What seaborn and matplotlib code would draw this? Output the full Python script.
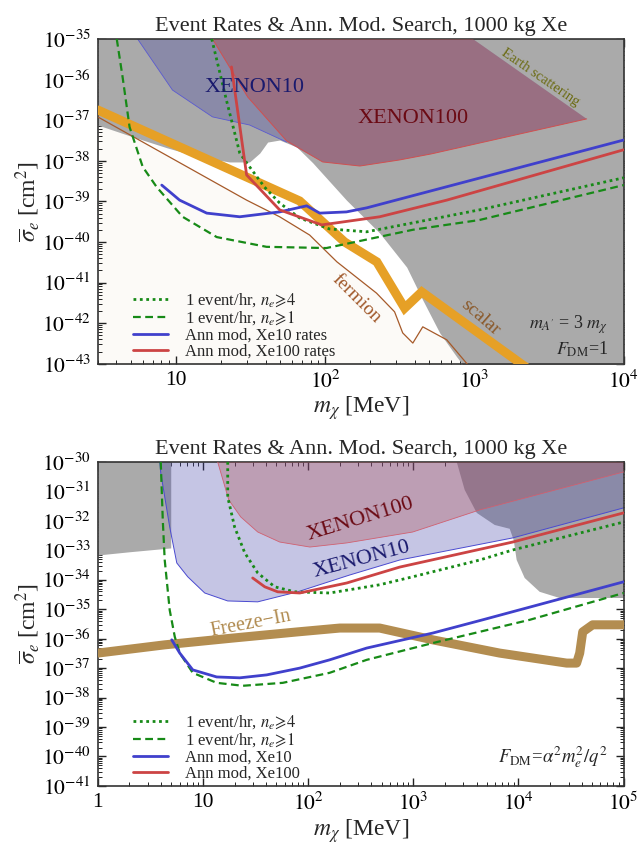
import numpy as np
import seaborn as sns
import matplotlib.pyplot as plt
from matplotlib.ticker import FixedLocator, FixedFormatter, LogLocator, NullFormatter

sns.set_theme(style='ticks')
plt.rcParams['font.family'] = ['Liberation Serif', 'DejaVu Serif']
plt.rcParams['mathtext.fontset'] = 'stix'

# ---------------- top panel data (mass in MeV, log10 sigma_e in cm^2) ----------------
top_gray_m = [3, 5.14, 8.7, 14.4, 22.9, 31.2, 36.5, 41.2, 49.6, 64.4, 82.6, 139, 232, 352, 451, 586, 762, 889, 1e4]
top_gray_lg = [-37.12, -37.41, -37.68, -37.91, -38.03, -38.03, -37.81, -37.54, -37.49, -37.66, -38.05,
               -38.97, -39.78, -40.62, -41.43, -42.24, -42.83, -43.15, -43.15]

top_x10_m = [5.54, 9.5, 17.6, 31.2, 55.2]
top_x10_lg = [-35, -36.26, -36.92, -37.12, -37.54]

top_x100_m = [17.6, 30.3, 55.2, 96.3, 171, 316, 517, 5650]
top_x100_lg = [-35, -36.43, -37.51, -38.03, -38.13, -37.98, -37.83, -36.97]
top_earth_m = [975]
top_earth_lg = [-35]

top_dot_m = [17.4, 21.8, 26.8, 31.2, 39.3, 49.6, 67.5, 107, 190, 387, 1080, 1e4]
top_dot_lg = [-35, -36.5, -37.81, -38.15, -38.65, -39.04, -39.41, -39.68, -39.75, -39.53, -39.21, -38.42]

top_dash_m = [4.02, 4.4, 4.9, 6.0, 7.45, 11.1, 18.8, 40.5, 102, 387, 1080, 1e4]
top_dash_lg = [-35, -35.94, -37.17, -38.15, -38.65, -39.38, -39.88, -40.12, -40.15, -39.7, -39.46, -38.6]

top_blue_m = [8.05, 10.6, 16.1, 26.8, 49.6, 75.3, 92, 139, 190, 1e4]
top_blue_lg = [-38.6, -38.97, -39.29, -39.38, -39.26, -39.11, -39.29, -39.26, -39.16, -37.49]

top_red_m = [23.6, 29.8, 49.6, 94.9, 232, 653, 1e4]
top_red_lg = [-35.69, -38.35, -39.21, -39.58, -39.38, -38.97, -37.73]

scalar_m = [3, 67.5, 135, 222, 341, 444, 2110, 2735]
scalar_lg = [-36.75, -38.99, -40.0, -40.49, -41.63, -41.23, -43.03, -43.32]

fermion_m = [3, 29.8, 49.6, 78.8, 120, 221, 292, 331, 387, 451, 653, 931, 1000]
fermion_lg = [-36.92, -38.97, -39.38, -39.83, -40.49, -41.26, -41.72, -42.24, -42.49, -42.09, -42.41, -43.08, -43.2]

# ---------------- bottom panel data ----------------
bot_gray1_m = [1, 2, 4.94]
bot_gray1_lg = [-33.16, -33.05, -32.92]

bot_gray2_m = [2587, 3080, 4010, 5940, 8250, 9000, 9610, 11450, 15900, 24600, 1e5]
bot_gray2_lg = [-30, -30.95, -31.73, -32.14, -32.27, -32.65, -33.33, -33.94, -34.41, -34.62, -34.62]

bot_x10_m = [3.88, 3.97, 4.83, 5.64, 7.17, 10.4, 17.2, 33.2, 79.6, 248, 743, 8810, 1e5]
bot_x10_lg = [-30, -30.37, -32.21, -33.43, -33.90, -34.45, -34.72, -34.75, -34.41, -33.84, -33.33, -32.58, -31.56]

bot_x100_m = [13.8, 17.6, 22.9, 33.2, 53.7, 104, 233, 986, 4280, 1e5]
bot_x100_lg = [-30, -31.29, -31.87, -32.38, -32.72, -32.89, -32.75, -32.38, -31.63, -30.34]

bot_dot_m = [17.2, 17.2, 20.0, 25, 33.2, 48.1, 74.6, 160, 480, 986, 4280, 8810, 1e5]
bot_dot_lg = [-30, -31.19, -32.21, -33.09, -33.77, -34.24, -34.41, -34.45, -34.17, -33.9, -33.33, -32.99, -32.04]

bot_dash_m = [3.97, 4.15, 4.33, 4.83, 5.4, 6.02, 8.0, 13.5, 23.9, 57.4, 160, 360, 1530, 12800, 1e5]
bot_dash_lg = [-30, -31.97, -33.33, -35.03, -35.94, -36.49, -37.16, -37.5, -37.6, -37.5, -37.16, -36.72,
               -36.15, -35.36, -34.45]

bot_blue_m = [5.05, 6.02, 8.0, 13.5, 22.4, 40.4, 83.2, 160, 360, 1530, 4570, 1e5]
bot_blue_lg = [-36.04, -36.49, -37.06, -37.30, -37.33, -37.23, -37.0, -36.72, -36.32, -35.81, -35.36, -34.07]

bot_red_m = [29.7, 38.7, 51.4, 83.2, 233, 743, 8810, 1e5]
bot_red_lg = [-33.94, -34.24, -34.41, -34.45, -34.11, -33.57, -32.72, -31.73]

freeze_m = [1, 4.33, 19.2, 79.6, 200, 479, 1530, 6620, 28700, 35700, 38200, 40800, 50700, 1e5]
freeze_lg = [-36.49, -36.21, -35.98, -35.77, -35.64, -35.64, -36.04, -36.49, -36.83, -36.83, -36.49,
             -35.77, -35.53, -35.53]

top_xticks = [10, 100, 1000, 10000]
top_xlabels = ['10', '$10^2$', '$10^3$', '$10^4$']
bot_xticks = [1, 10, 100, 1000, 10000, 100000]
bot_xlabels = ['1', '10', '$10^2$', '$10^3$', '$10^4$', '$10^5$']
top_yexp = list(range(-43, -34))
bot_yexp = list(range(-41, -29))

title = 'Event Rates & Ann. Mod. Search, 1000 kg Xe'

GRAY = '#aaaaaa'
GREEN = '#178a17'
BLUE = '#4040cc'
RED = '#cc4444'
X10_C = (0.25, 0.25, 0.65)
X100_C = (0.68, 0.31, 0.33)


def s(lg):
    return 10.0 ** np.asarray(lg)


def style_axes(ax, xlim, ylim, xticks, xlabels, yexp):
    ax.set_xscale('log')
    ax.set_yscale('log')
    ax.set_xlim(*xlim)
    ax.set_ylim(*ylim)
    ax.xaxis.set_major_locator(FixedLocator(xticks))
    ax.xaxis.set_major_formatter(FixedFormatter(xlabels))
    ax.xaxis.set_minor_locator(LogLocator(base=10, subs=np.arange(2, 10), numticks=50))
    ax.xaxis.set_minor_formatter(NullFormatter())
    ax.yaxis.set_major_locator(FixedLocator([10.0 ** e for e in yexp]))
    ax.yaxis.set_major_formatter(FixedFormatter(['$10^{%d}$' % e for e in yexp]))
    ax.yaxis.set_minor_locator(LogLocator(base=10, subs=np.arange(2, 10), numticks=50))
    ax.yaxis.set_minor_formatter(NullFormatter())
    ax.tick_params(which='both', direction='in', top=True, right=True, colors='#222222',
                   labelsize=15.5, labelcolor='black')
    ax.tick_params(which='major', length=6, width=1.0, pad=5)
    ax.tick_params(which='minor', length=3, width=0.7)
    for sp in ax.spines.values():
        sp.set_linewidth(1.2)
        sp.set_color('#333333')
    ax.set_xlabel(r'$m_\chi$ [MeV]', fontsize=17, labelpad=1)
    ax.set_ylabel(r'$\overline{\sigma}_e$ [cm$^2$]', fontsize=17, labelpad=0)
    ax.set_title(title, fontsize=16, pad=6)
    ax.set_facecolor('white')


def rate_lines(ax, dot, dash, blue, red, labels):
    sns.lineplot(x=dot[0], y=s(dot[1]), ax=ax, color=GREEN, lw=2.0, linestyle=(0, (1, 1.3)),
                 sort=False, estimator=None, label=labels[0], zorder=6)
    sns.lineplot(x=dash[0], y=s(dash[1]), ax=ax, color=GREEN, lw=1.6, linestyle=(0, (3.5, 2)),
                 sort=False, estimator=None, label=labels[1], zorder=6)
    sns.lineplot(x=blue[0], y=s(blue[1]), ax=ax, color=BLUE, lw=2.0,
                 sort=False, estimator=None, label=labels[2], zorder=7)
    sns.lineplot(x=red[0], y=s(red[1]), ax=ax, color=RED, lw=2.0,
                 sort=False, estimator=None, label=labels[3], zorder=7)


fig = plt.figure(figsize=(6.39, 8.46), dpi=100)
ax1 = fig.add_axes([0.153, 0.570, 0.823, 0.384])
ax2 = fig.add_axes([0.153, 0.071, 0.823, 0.383])

# ================= top panel =================
style_axes(ax1, (3, 1e4), (1e-43, 1e-35), top_xticks, top_xlabels, top_yexp)

ax1.fill_between(fermion_m, 1e-45, s(fermion_lg), color='#fcfaf7', lw=0, zorder=0)
ax1.fill_between(top_gray_m, s(top_gray_lg), 1e-34, color=GRAY, lw=0, zorder=1)

x10_poly_m = top_x10_m + top_x100_m[3:] + top_earth_m
x10_poly_lg = top_x10_lg + top_x100_lg[3:] + top_earth_lg
ax1.fill(x10_poly_m, s(x10_poly_lg), color=X10_C, alpha=0.3, lw=0, zorder=2)
ax1.plot(top_x10_m, s(top_x10_lg), color='#5a5ad0', lw=0.6, zorder=2)
ax1.fill(top_x100_m + top_earth_m, s(top_x100_lg + top_earth_lg), color=X100_C, alpha=0.45, lw=0, zorder=3)
ax1.plot(top_x100_m, s(top_x100_lg), color='#d05050', lw=0.7, zorder=3)

sns.lineplot(x=scalar_m, y=s(scalar_lg), ax=ax1, color='#e6a026', lw=6.5, sort=False,
             estimator=None, zorder=4, solid_joinstyle='miter')
sns.lineplot(x=fermion_m, y=s(fermion_lg), ax=ax1, color='#a65a2a', lw=0.9, sort=False,
             estimator=None, zorder=4)

rate_lines(ax1, (top_dot_m, top_dot_lg), (top_dash_m, top_dash_lg), (top_blue_m, top_blue_lg),
           (top_red_m, top_red_lg),
           [r'1 event/hr, $n_e\!\geqslant\!4$', r'1 event/hr, $n_e\!\geqslant\!1$',
            'Ann mod, Xe10 rates', 'Ann mod, Xe100 rates'])

ax1.text(33.8, 10 ** -36.2, 'XENON10', color='#1a1a6e', fontsize=16, ha='center', va='center', zorder=8)
ax1.text(387, 10 ** -36.97, 'XENON100', color='#6b0a14', fontsize=16, ha='center', va='center', zorder=8)
ax1.text(2780, 10 ** -35.96, 'Earth scattering', color='#6b6b12', fontsize=10.5, rotation=-34.5,
         ha='center', va='center', zorder=8)
ax1.text(162, 10 ** -41.4, 'fermion', color='#a0582a', fontsize=14, rotation=-45,
         ha='center', va='center', zorder=8)
ax1.text(1100, 10 ** -41.85, 'scalar', color='#8b5a2b', fontsize=14, rotation=-41,
         ha='center', va='center', zorder=8)
ax1.text(0.97, 0.12, r"$m_{A^{\!\prime}}$ = 3 $m_\chi$", transform=ax1.transAxes, fontsize=13,
         ha='right', va='center', zorder=8)
ax1.text(0.97, 0.045, r'$F_{\rm DM}$=1', transform=ax1.transAxes, fontsize=13,
         ha='right', va='center', zorder=8)

ax1.legend(loc='lower left', bbox_to_anchor=(0.067, 0.012), frameon=False, fontsize=12,
           handlelength=2.1, handletextpad=1.0, labelspacing=0.02, borderaxespad=0, borderpad=0)

# ================= bottom panel =================
style_axes(ax2, (1, 1e5), (1e-41, 1e-30), bot_xticks, bot_xlabels, bot_yexp)

ax2.fill_between(bot_gray1_m, s(bot_gray1_lg), 1e-29, color=GRAY, lw=0, zorder=1)
ax2.fill(bot_gray2_m + [1e5], s(bot_gray2_lg + [-30]), color=GRAY, lw=0, zorder=1)

ax2.fill(bot_x10_m + [1e5], s(bot_x10_lg + [-30]), color=X10_C, alpha=0.3, lw=0, zorder=2)
ax2.plot(bot_x10_m, s(bot_x10_lg), color='#4a4ad0', lw=0.7, zorder=2)
ax2.fill(bot_x100_m + [1e5], s(bot_x100_lg + [-30]), color=X100_C, alpha=0.33, lw=0, zorder=3)
ax2.plot(bot_x100_m, s(bot_x100_lg), color='#d06070', lw=0.6, zorder=3)

sns.lineplot(x=freeze_m, y=s(freeze_lg), ax=ax2, color='#b38d50', lw=6.5, sort=False,
             estimator=None, zorder=4)

rate_lines(ax2, (bot_dot_m, bot_dot_lg), (bot_dash_m, bot_dash_lg), (bot_blue_m, bot_blue_lg),
           (bot_red_m, bot_red_lg),
           [r'1 event/hr, $n_e\!\geqslant\!4$', r'1 event/hr, $n_e\!\geqslant\!1$',
            'Ann mod, Xe10', 'Ann mod, Xe100'])

ax2.text(316, 10 ** -31.97, 'XENON100', color='#6b0a14', fontsize=16, rotation=17,
         ha='center', va='center', zorder=8)
ax2.text(323, 10 ** -33.33, 'XENON10', color='#1a1a6e', fontsize=16, rotation=15,
         ha='center', va='center', zorder=8)
ax2.text(28.5, 10 ** -35.5, 'Freeze\u2212In', color='#b08a4e', fontsize=14.5, rotation=11,
         ha='center', va='center', zorder=8)
ax2.text(0.97, 0.09, r'$F_{\rm DM}$=$\alpha^2 m_e^2/q^2$', transform=ax2.transAxes, fontsize=13.5,
         ha='right', va='center', zorder=8)

ax2.legend(loc='lower left', bbox_to_anchor=(0.067, 0.012), frameon=False, fontsize=12,
           handlelength=2.1, handletextpad=1.0, labelspacing=0.02, borderaxespad=0, borderpad=0)

fig.savefig('out.png', dpi=100)
